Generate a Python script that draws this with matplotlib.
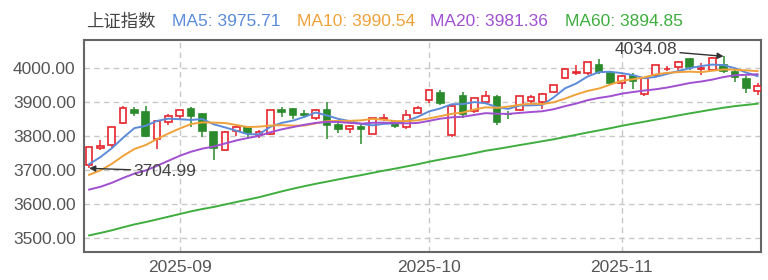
import matplotlib
matplotlib.use("Agg")
import matplotlib.pyplot as plt
import numpy as np
import pandas as pd

plt.rcParams['font.family'] = ['Liberation Sans', 'Noto Sans CJK SC', 'DejaVu Sans']

# trading days shown (Oct 1-8 is the National Day holiday)
dates = [d for d in pd.bdate_range('2025-08-20', '2025-11-19')
         if not (d.month == 10 and d.day <= 8)]

# daily OHLC of the SSE Composite
open_ = [3716, 3766, 3772, 3838, 3876, 3870, 3791, 3842, 3860, 3878,
         3866, 3811, 3760, 3814, 3826, 3802, 3806, 3875, 3879, 3866,
         3854, 3876, 3833, 3820, 3826, 3807, 3849, 3840, 3825, 3868,
         3907, 3926, 3803, 3916, 3872, 3900, 3915, 3866, 3877, 3903,
         3900, 3930, 3970, 3984, 3986, 4010, 3985, 3956, 3976, 3922,
         3978, 3996, 4003, 4026, 3998, 3995, 4009, 3988, 3968, 3931]
high = [3766.9, 3788, 3826, 3888.6, 3884, 3887, 3845, 3866, 3876, 3884,
        3868, 3812, 3815, 3830, 3829, 3818, 3876, 3884, 3881, 3875,
        3880, 3900, 3838, 3831, 3834, 3854, 3866, 3848, 3876, 3888,
        3936, 3936, 3891, 3929, 3913, 3932, 3920, 3872, 3917, 3919,
        3925, 3951, 3999, 4010, 4016.8, 4025, 3990, 3978, 3985, 3972,
        4010, 4006, 4020, 4030, 4013, 4031, 4034.08, 3995, 3975, 3956]
low = [3704.99, 3758, 3765, 3835, 3858, 3796, 3762, 3833, 3850, 3825,
       3797, 3730, 3755, 3801, 3794, 3795, 3802, 3857, 3851, 3852,
       3848, 3790, 3809, 3810, 3776, 3805, 3843, 3823, 3820, 3864,
       3897, 3890, 3797, 3853, 3868, 3895, 3832, 3850, 3872, 3898,
       3880, 3926, 3968, 3978, 3980, 3982, 3950, 3937, 3938, 3918,
       3975, 3990, 3995, 3995, 3980, 3990, 3985, 3958, 3927, 3920]
close = [3766.21, 3771.10, 3825.76, 3883.56, 3868.38, 3800.35, 3843.60, 3857.93, 3875.53, 3858.13,
         3813.56, 3765.88, 3812.51, 3826.84, 3807.29, 3812.22, 3875.31, 3870.60, 3860.50, 3861.87,
         3876.34, 3831.66, 3820.09, 3828.58, 3821.83, 3853.64, 3853.30, 3828.11, 3862.53, 3882.78,
         3933.97, 3897.03, 3889.50, 3865.23, 3912.21, 3916.23, 3839.76, 3863.89, 3916.33, 3913.76,
         3922.41, 3950.31, 3996.94, 3988.22, 4016.33, 3986.90, 3954.79, 3976.52, 3960.19, 3969.25,
         4007.76, 3997.56, 4018.60, 4002.76, 4000.14, 4029.50, 3990.49, 3972.03, 3939.81, 3946.74]

# closes of the 59 sessions before the window (needed for the moving averages)
prior_close = [3339.93, 3363.45, 3347.49, 3361.98, 3376.20, 3384.10, 3385.36, 3399.77, 3384.82, 3402.32,
               3402.66, 3377.00, 3388.73, 3387.40, 3388.81, 3362.11, 3359.90, 3381.58, 3420.57, 3455.97,
               3448.45, 3424.23, 3444.43, 3457.75, 3454.79, 3461.15, 3472.32, 3473.13, 3497.48, 3493.05,
               3509.68, 3510.18, 3519.65, 3505.00, 3503.78, 3516.83, 3534.48, 3559.79, 3581.86, 3582.30,
               3605.73, 3593.66, 3597.94, 3609.71, 3615.72, 3573.21, 3559.95, 3583.31, 3617.60, 3633.99,
               3639.67, 3635.13, 3647.55, 3665.92, 3683.46, 3666.44, 3696.77, 3728.03, 3727.29]

ma_windows = [5, 10, 20, 60]
ma_colors = ['#5b8bd9', '#f0a23a', '#a050d0', '#3fae3f']

UP = '#e5262e'
DOWN = '#2b8a2b'

o = np.array(open_, float)
h = np.array(high, float)
l = np.array(low, float)
c = np.array(close, float)
n = len(c)
x = np.arange(n)

full = pd.Series(prior_close + close)
mas = {w: full.rolling(w).mean().to_numpy()[-n:] for w in ma_windows}

fig = plt.figure(figsize=(7.68, 2.8), dpi=100)
ax = fig.add_axes([84 / 768, 28 / 280, 677 / 768, 212 / 280])

up = c >= o
cols = np.where(up, UP, DOWN)
ax.vlines(x, l, h, colors=cols, lw=1.1, zorder=2)
body = np.maximum(np.abs(c - o), 1.5)
ax.bar(x, body, bottom=np.minimum(o, c), width=0.6,
       color=np.where(up, 'white', DOWN), edgecolor=cols, lw=1.2, zorder=3)

for w, col in zip(ma_windows, ma_colors):
    ax.plot(x, mas[w], color=col, lw=1.4, zorder=4)

# highest high / lowest low markers
imax = int(np.argmax(h))
imin = int(np.argmin(l))
arrow = dict(arrowstyle='-|>', color='#333333', lw=1.0, shrinkA=0, shrinkB=0,
             mutation_scale=9)
ax.annotate(f'{h[imax]:.2f}', xy=(imax, h[imax]), xytext=(imax - 4.1, h[imax] + 19),
            ha='right', va='center', fontsize=12.5, color='#444444',
            arrowprops=arrow, zorder=6, annotation_clip=False)
ax.annotate(f'{l[imin]:.2f}', xy=(imin, l[imin]), xytext=(imin + 3.9, l[imin] - 8),
            ha='left', va='center', fontsize=12.5, color='#444444',
            arrowprops=arrow, zorder=6)

ax.set_xlim(-0.45, n - 0.7)
ax.set_ylim(3459, 4082)
ax.set_yticks([3500, 3600, 3700, 3800, 3900, 4000])
ax.yaxis.set_major_formatter(matplotlib.ticker.FormatStrFormatter('%.2f'))

month_starts = [i for i in range(1, n) if dates[i].month != dates[i - 1].month]
ax.set_xticks(month_starts)
ax.set_xticklabels([dates[i].strftime('%Y-%m') for i in month_starts])

ax.tick_params(length=0, labelsize=12.5, labelcolor='#555555', pad=6)
ax.grid(True, color='#c8c8c8', ls=(0, (4, 3)), lw=1.0)
ax.set_axisbelow(True)
for s in ax.spines.values():
    s.set_color('#666666')
    s.set_linewidth(1.5)

# header line
fy = 1 - 22 / 280
fig.text(86 / 768, fy, '上证指数', color='#444444', fontsize=12.5, va='center',
         family=['Noto Sans CJK SC'])
for w, col, px in zip(ma_windows, ma_colors, [172, 297, 430, 565]):
    fig.text(px / 768, fy, f'MA{w}: {mas[w][-1]:.2f}', color=col, fontsize=12.5,
             va='center')

fig.savefig('out.png', dpi=100)
